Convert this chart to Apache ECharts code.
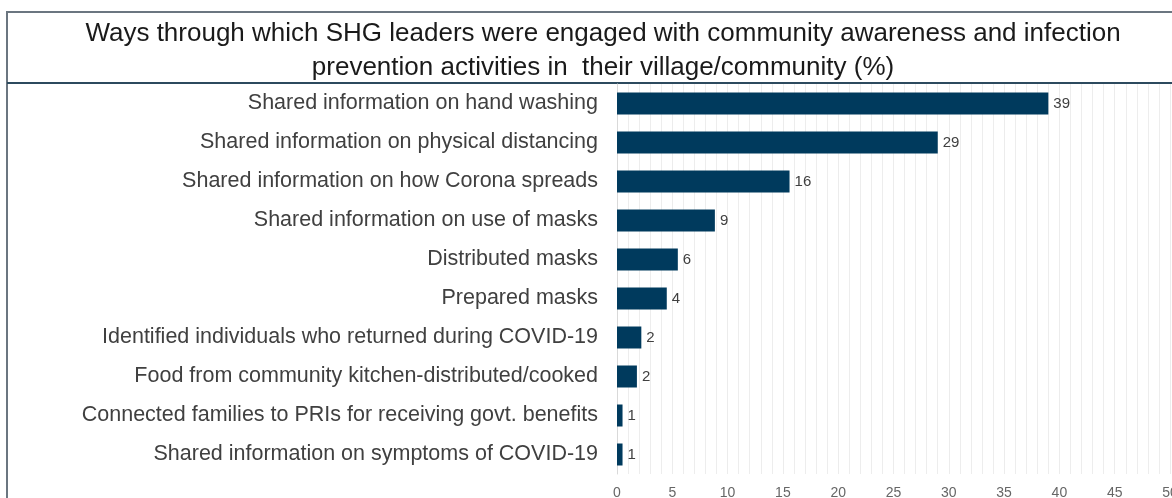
<!DOCTYPE html>
<html><head><meta charset="utf-8">
<script src="https://cdn.jsdelivr.net/npm/echarts@6/dist/echarts.min.js"></script>
<style>html,body{margin:0;padding:0;background:#fff}#c{width:1172px;height:498px}</style>
</head><body><div id="c"></div>
<script>
const titleLines = ["Ways through which SHG leaders were engaged with community awareness and infection", "prevention activities in  their village/community (%)"];
const categories = [
  "Shared information on hand washing",
  "Shared information on physical distancing",
  "Shared information on how Corona spreads",
  "Shared information on use of masks",
  "Distributed masks",
  "Prepared masks",
  "Identified individuals who returned during COVID-19",
  "Food from community kitchen-distributed/cooked",
  "Connected families to PRIs for receiving govt. benefits",
  "Shared information on symptoms of COVID-19"
];
const values = [39, 29, 16, 9, 6, 4, 2, 2, 1, 1];
const barValues = [39, 29, 15.6, 8.85, 5.5, 4.5, 2.2, 1.8, 0.5, 0.5];
const xTicks = [0, 5, 10, 15, 20, 25, 30, 35, 40, 45, 50];

const chart = echarts.init(document.getElementById('c'), null, {renderer: 'canvas'});
const labelFont = '"Liberation Sans", sans-serif';
chart.setOption({
  animation: false,
  title: {
    text: titleLines.join('\n'),
    left: 598, top: 12, textAlign: 'center',
    textStyle: {fontFamily: '"Liberation Sans", sans-serif', fontSize: 26, fontWeight: 'normal', color: '#1a1a1a', lineHeight: 34}
  },
  graphic: [
    {type: 'polyline', shape: {points: [[7, 498], [7, 12], [1172, 12]]}, style: {stroke: '#6b7680', lineWidth: 2, fill: null}, silent: true},
    {type: 'line', shape: {x1: 7, y1: 83, x2: 1172, y2: 83}, style: {stroke: '#2c4a5e', lineWidth: 2}, silent: true}
  ],
  grid: {left: 617, right: 2, top: 84, bottom: 24, containLabel: false, outerBoundsMode: 'none'},
  xAxis: {
    type: 'value', min: 0, max: 50, interval: 5,
    axisLine: {show: false}, axisTick: {show: false},
    axisLabel: {color: '#666', fontSize: 14, fontFamily: '"Liberation Sans", sans-serif', margin: 12,
      formatter: v => xTicks.includes(v) ? String(v) : ''},
    splitLine: {show: true, lineStyle: {color: '#ececec', width: 1}},
    minorTick: {show: false, splitNumber: 5},
    minorSplitLine: {show: true, lineStyle: {color: '#ededed', width: 1}}
  },
  yAxis: {
    type: 'category', data: categories, inverse: true,
    axisLine: {show: true, lineStyle: {color: '#d9d9d9'}}, axisTick: {show: false},
    axisLabel: {color: '#404040', fontSize: 21.5, fontFamily: labelFont, margin: 19}
  },
  series: [{
    type: 'bar', data: barValues,
    barWidth: 22,
    itemStyle: {color: '#003a5d'},
    label: {show: true, position: 'right', distance: 5, color: '#404040', fontSize: 15,
      fontFamily: '"Liberation Sans", sans-serif',
      formatter: p => String(values[p.dataIndex])}
  }]
});
</script></body></html>
